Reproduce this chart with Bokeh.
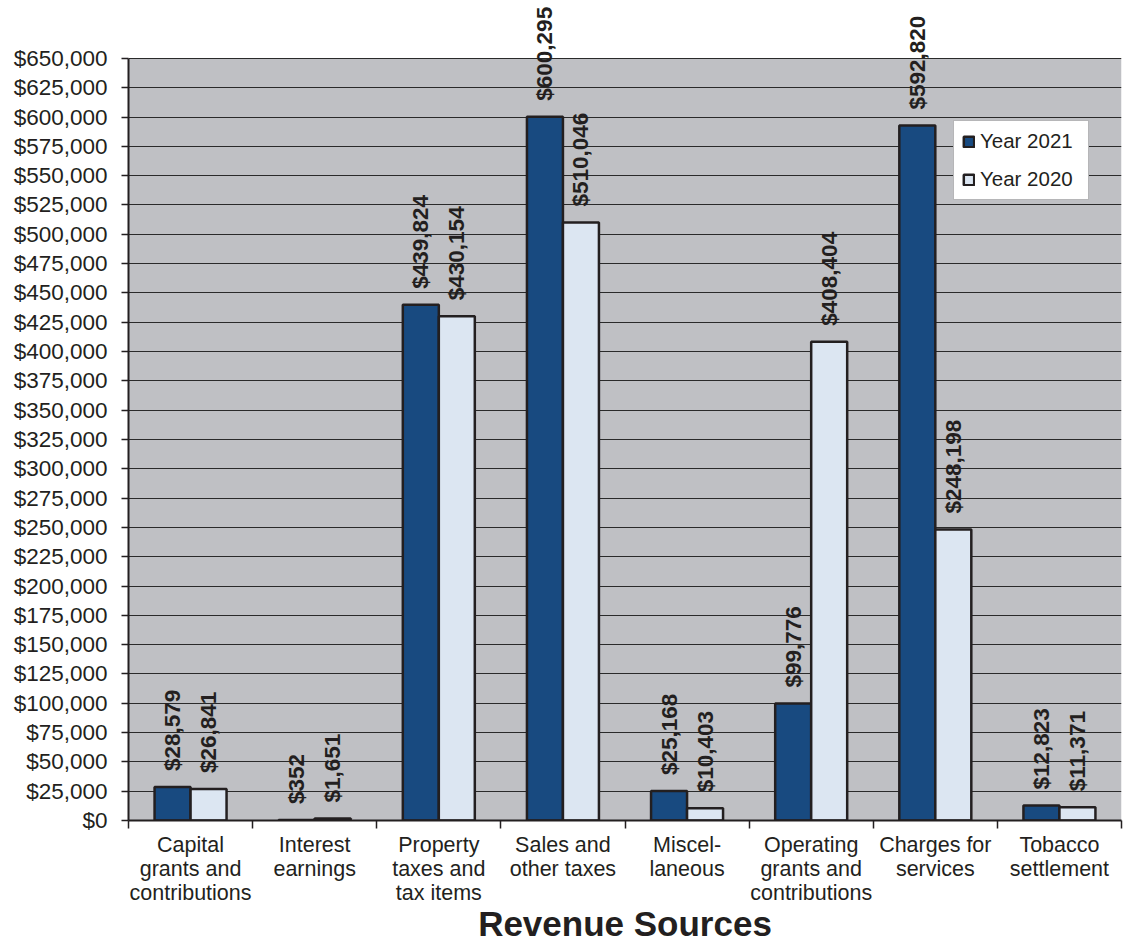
import math
from bokeh.plotting import figure
from bokeh.models import (ColumnDataSource, Range1d, FixedTicker, NumeralTickFormatter,
                          LabelSet, Legend, LegendItem)
from bokeh.core.properties import value
from bokeh.embed import file_html
from bokeh.resources import INLINE

categories = ["Capital\ngrants and\ncontributions", "Interest\nearnings",
              "Property\ntaxes and\ntax items", "Sales and\nother taxes",
              "Miscel-\nlaneous", "Operating\ngrants and\ncontributions",
              "Charges for\nservices", "Tobacco\nsettlement"]
year_2021 = [28579, 352, 439824, 600295, 25168, 99776, 592820, 12823]
year_2020 = [26841, 1651, 430154, 510046, 10403, 408404, 248198, 11371]
series_names = ["Year 2021", "Year 2020"]
y_ticks = list(range(0, 650001, 25000))
axis_title = "Revenue Sources"

FONT = "Liberation Sans"
TXT = "#231f20"
DARK = "#184a80"
LIGHT = "#dce6f2"
PLOT_BG = "#bfc0c4"
BAR_W = 0.29

n = len(categories)
y_max = y_ticks[-1]
centers = [i + 0.5 for i in range(n)]
x21 = [c - BAR_W / 2 for c in centers]
x20 = [c + BAR_W / 2 for c in centers]

src21 = ColumnDataSource(dict(x=x21, top=year_2021,
                              lbl=["${:,}".format(v) for v in year_2021]))
src20 = ColumnDataSource(dict(x=x20, top=year_2020,
                              lbl=["${:,}".format(v) for v in year_2020]))

# frame spans from window top (y=0) to the zero line at y=821; max tick sits at y=58
y_top = y_max * 821 / 763

p = figure(width=1123, height=945, output_backend="svg", toolbar_location=None,
           x_range=Range1d(0, n), y_range=Range1d(0, y_top),
           min_border_left=128, min_border_right=2, min_border_top=0,
           min_border_bottom=124)
p.background_fill_color = "white"
p.border_fill_color = "white"
p.outline_line_color = None

# grey plotting area (only up to the highest tick)
p.quad(left=0, right=n, bottom=0, top=y_max, fill_color=PLOT_BG, line_color=None,
       level="image")

r21 = p.vbar(x="x", top="top", width=BAR_W, source=src21, fill_color=DARK,
             line_color=TXT, line_width=2.5)
r20 = p.vbar(x="x", top="top", width=BAR_W, source=src20, fill_color=LIGHT,
             line_color=TXT, line_width=2.5)

# y axis
p.yaxis.ticker = FixedTicker(ticks=y_ticks)
p.yaxis.bounds = (0, y_max)
p.yaxis.formatter = NumeralTickFormatter(format="$0,0")
p.yaxis.major_label_text_font = FONT
p.yaxis.major_label_text_font_size = "22.5px"
p.yaxis.major_label_text_color = TXT
p.yaxis.major_tick_out = 7
p.yaxis.major_tick_in = 0
p.yaxis.minor_tick_out = 0
p.yaxis.major_label_standoff = 14
p.yaxis.axis_line_color = TXT
p.yaxis.axis_line_width = 2
p.yaxis.major_tick_line_color = TXT
p.yaxis.major_tick_line_width = 1.5

# x axis
p.xaxis.ticker = FixedTicker(ticks=centers, minor_ticks=list(range(n + 1)))
p.xaxis.major_label_overrides = {c: lab for c, lab in zip(centers, categories)}
p.xaxis.major_tick_out = 0
p.xaxis.major_tick_in = 0
p.xaxis.minor_tick_out = 8
p.xaxis.minor_tick_in = 0
p.xaxis.minor_tick_line_color = TXT
p.xaxis.minor_tick_line_width = 1.5
p.xaxis.axis_line_color = TXT
p.xaxis.axis_line_width = 2
p.xaxis.major_label_text_font = FONT
p.xaxis.major_label_text_font_size = "21.5px"
p.xaxis.major_label_text_color = TXT
p.xaxis.major_label_text_line_height = 1.0
p.xaxis.major_label_standoff = 4
p.xaxis.axis_label = axis_title
p.xaxis.axis_label_text_font = FONT
p.xaxis.axis_label_text_font_size = "35px"
p.xaxis.axis_label_text_font_style = "bold"
p.xaxis.axis_label_text_color = TXT
p.xaxis.axis_label_standoff = -4

p.xgrid.grid_line_color = None
p.ygrid.ticker = FixedTicker(ticks=y_ticks)
p.ygrid.grid_line_color = "#2a2a2a"
p.ygrid.grid_line_width = 1

for src in (src21, src20):
    p.add_layout(LabelSet(x="x", y="top", text="lbl", source=src, angle=math.pi / 2,
                          y_offset=16, text_align="left", text_baseline="middle",
                          text_font=value(FONT), text_font_size=value("22.5px"),
                          text_font_style="bold", text_color=TXT))

legend = Legend(items=[LegendItem(label=series_names[0], renderers=[r21]),
                       LegendItem(label=series_names[1], renderers=[r20])],
                location=(825, 620), orientation="vertical",
                label_text_font=FONT, label_text_font_size="20.5px",
                label_text_color=TXT, glyph_width=13, glyph_height=13,
                label_height=20, label_width=100, spacing=14, padding=8, margin=0,
                label_standoff=5, border_line_color="#6d6e71",
                border_line_width=1.5, background_fill_color="white",
                background_fill_alpha=1)
p.add_layout(legend)

open("out.html", "w").write(file_html(p, INLINE))
